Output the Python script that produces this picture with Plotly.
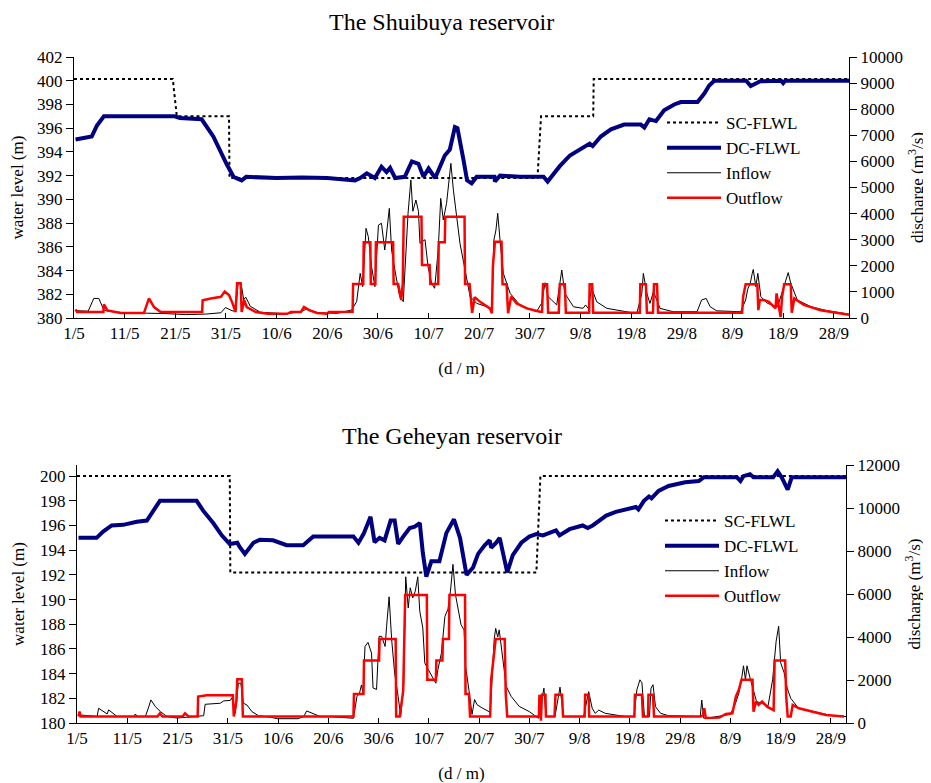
import plotly.graph_objects as go

# ---------------- axis ticks ----------------
TICK_DAYS = [0, 10, 20, 30, 40, 50, 60, 70, 80, 90, 100, 110, 120, 130, 140, 150]
TICK_TEXT = ["1/5", "11/5", "21/5", "31/5", "10/6", "20/6", "30/6", "10/7",
             "20/7", "30/7", "9/8", "19/8", "29/8", "8/9", "18/9", "28/9"]

# ---------------- Shuibuya (top) ----------------
SHU_SC_X = [0, 19.5, 20.3, 30.6, 30.7, 91.5, 92.2, 102.5, 102.6, 153]
SHU_SC_Y = [400.15, 400.15, 397.0, 397.0, 391.8, 391.8, 397.0, 397.0, 400.15, 400.15]

SHU_DC_X = [0.3, 3.0, 3.5, 4.5, 5.9, 19.9, 20.9, 25.2, 27.5, 30.1, 31.5, 33.1, 34.0, 40, 45, 50,
            54.5, 55.5, 56.5, 57.8, 59.4, 60.7, 61.7, 62.4, 63.4, 65.3, 66.7, 68.0, 69.0, 70.0,
            71.3, 73.2, 74.2, 75.2, 75.7, 76.2, 76.9, 77.6, 78.5, 79.5, 83.0, 83.1, 84.1, 88,
            92.7, 93.5, 95.9, 97.9, 99.9, 101.8, 102.4, 104.0, 106.0, 108.6, 111.9, 112.6, 113.6,
            114.9, 116.5, 118.5, 119.8, 123.1, 124.4, 125.4, 126.4, 132.7, 133.6, 135.0, 135.5,
            139.6, 140.0, 140.4, 153]
SHU_DC_Y = [395.05, 395.2, 395.3, 396.2, 397.0, 397.0, 396.85, 396.75, 395.3, 393.0, 391.9, 391.6,
            391.9, 391.8, 391.85, 391.8, 391.7, 391.6, 391.8, 392.2, 391.8, 392.75, 392.3, 392.65,
            391.8, 391.9, 393.2, 393.0, 391.9, 392.6, 391.8, 393.7, 394.2, 396.1, 396.0, 395.0,
            393.3, 391.6, 391.35, 391.9, 391.9, 391.5, 392.0, 391.9, 391.9, 391.5, 392.8, 393.7,
            394.2, 394.7, 394.5, 395.3, 395.9, 396.3, 396.3, 396.05, 396.75, 396.6, 397.5, 398.0,
            398.2, 398.2, 398.9, 399.6, 400.0, 400.0, 399.55, 399.8, 399.95, 400.0, 399.8, 400.0,
            400.0]

SHU_IN_X = [0.5, 2.8, 3.9, 4.9, 5.9, 7, 10, 14, 18, 22, 26, 29, 29.9, 31.2, 31.9, 32.4, 33.0, 33.5,
            33.9, 34.8, 36.8, 42, 45, 46, 48, 52, 54.8, 55.8, 56.5, 57.0, 57.65, 58.1, 58.75, 59.4,
            60.1, 60.7, 61.0, 61.35, 62.25, 62.7, 63.35, 64.3, 65.0, 65.5, 65.95, 66.5, 66.9, 67.5,
            68.0, 68.3, 69.3, 69.9, 70.6, 71.2, 71.9, 72.4, 72.9, 73.55, 74.1, 74.4, 74.9, 75.4,
            76.2, 77.2, 78.2, 79.5, 81.5, 82.5, 82.9, 83.3, 83.65, 84.1, 84.75, 86.1, 88.0, 91.3,
            92.3, 93.0, 93.6, 94.3, 95.3, 96.3, 96.9, 98.6, 100.5, 101.0, 101.5, 102.2, 103.2,
            105.2, 107.8, 111.1, 112.1, 112.4, 113.1, 113.7, 114.4, 115.0, 115.7, 118.3, 123,
            123.9, 124.8, 125.6, 126.9, 131.6, 132.6, 133.0, 133.5, 133.9, 134.1, 134.6, 135.0,
            135.6, 136.9, 138.9, 140.6, 141.0, 141.5, 142.8, 145.5, 148.8, 153]
SHU_IN_Y = [280, 260, 750, 750, 300, 250, 200, 190, 170, 130, 150, 200, 400, 280, 250, 1330, 1300,
            700, 800, 450, 220, 160, 260, 350, 200, 180, 306, 625, 1710, 1200, 3435, 3115, 1965,
            1200, 3560, 3630, 3100, 2605, 4200, 2600, 1840, 817, 625, 2220, 4010, 5290, 4090, 4520,
            4090, 2860, 3000, 1965, 1330, 1140, 2600, 4585, 3760, 4390, 5410, 5925, 4900, 4140,
            2860, 1840, 817, 562, 430, 300, 2990, 3370, 4010, 2990, 1720, 945, 500, 240, 562, 1350,
            817, 690, 500, 1840, 945, 430, 370, 500, 370, 1140, 620, 370, 275, 170, 945, 1710, 945,
            560, 1010, 690, 370, 240, 240, 690, 750, 430, 275, 240, 690, 1100, 1330, 1710, 1860,
            1200, 1710, 817, 560, 430, 1455, 1740, 1330, 690, 430, 275, 150]

SHU_OUT_X = [0.3, 0.6, 5.8, 5.9, 6.6, 7.9, 9.2, 13.8, 14.8, 15.8, 17.1, 25.3, 25.4, 27, 29, 29.75,
             30.6, 31.3, 31.9, 32.2, 32.9, 33.1, 33.6, 34.1, 35.9, 38.2, 42.1, 42.8, 44.8, 45.4,
             46.4, 48, 50, 50.3, 55.0, 55.1, 57.1, 57.2, 58.5, 58.6, 59.5, 59.6, 63.0, 63.1, 64.0,
             64.6, 64.9, 65.1, 68.6, 68.7, 70.2, 70.35, 71.9, 72.0, 73.2, 73.3, 77.1, 77.2, 78.1,
             78.6, 79.1, 80.3, 82.1, 82.5, 82.7, 83.1, 84.4, 84.6, 85.4, 85.7, 86.3, 87.4, 89.4,
             92.0, 92.4, 92.6, 93.4, 93.6, 95.7, 95.9, 96.9, 97.1, 101.7, 101.8, 102.3, 102.5,
             111.7, 111.8, 112.9, 113.1, 114.3, 114.5, 115.1, 115.3, 131.9, 132.1, 132.6, 134.9,
             135.1, 135.4, 136.2, 137.2, 138.5, 138.7, 139.2, 139.5, 139.8, 140.2, 141.5, 141.7,
             142.2, 144.1, 147.4, 150.1, 153]
SHU_OUT_Y = [330, 230, 230, 520, 290, 230, 190, 190, 750, 420, 230, 230, 680, 750, 810, 1010, 880,
             560, 230, 1330, 1330, 230, 680, 420, 230, 160, 160, 230, 230, 420, 300, 190, 160, 230,
             240, 1300, 1300, 2900, 2900, 1300, 1300, 2900, 2900, 1300, 1300, 690, 1300, 3880,
             3880, 2030, 2030, 1300, 1300, 2900, 2900, 3880, 3880, 1300, 1300, 200, 800, 600, 370,
             180, 1990, 2920, 2920, 1290, 1290, 180, 820, 560, 370, 240, 240, 1290, 1290, 200,
             200, 1290, 1290, 200, 200, 1290, 1290, 200, 200, 1290, 1290, 200, 200, 1290, 1290,
             200, 200, 820, 1290, 1290, 300, 690, 690, 620, 370, 945, 430, 40, 820, 1290, 1290,
             200, 750, 500, 300, 200, 120]

# ---------------- Geheyan (bottom) ----------------
GEH_SC_X = [0, 30.4, 30.5, 91.4, 92.2, 153]
GEH_SC_Y = [200.0, 200.0, 192.2, 192.2, 200.0, 200.0]

GEH_DC_X = [0.3, 3.9, 5.2, 6.9, 9.2, 11.9, 13.9, 15.2, 16.5, 23.8, 25.1, 27.1, 28.8, 30.4, 31.9,
            32.3, 33.4, 35.1, 36.4, 39.0, 41.7, 45.0, 47.0, 55.0, 56.0, 57.0, 58.4, 59.2, 60.2,
            61.2, 62.4, 63.2, 63.9, 64.9, 66.2, 67.2, 68.2, 68.8, 69.5, 70.5, 72.1, 73.5, 75.0,
            76.2, 77.5, 78.8, 79.8, 81.1, 82.1, 82.4, 83.4, 84.1, 84.7, 85.6, 86.7, 88.4, 90.0,
            91.4, 92.7, 94.0, 95.3, 96.0, 98.0, 100.6, 101.6, 102.6, 105.3, 107.2, 109.2, 110.5,
            111.2, 111.7, 112.8, 113.8, 114.3, 115.7, 117.7, 121.0, 123.7, 124.7, 131.3, 132.0,
            132.6, 133.9, 134.6, 138.5, 139.4, 140.2, 141.4, 142.2, 153]
GEH_DC_Y = [195.0, 195.0, 195.5, 196.0, 196.05, 196.3, 196.4, 197.2, 198.0, 198.0, 197.2, 196.2,
            195.2, 194.5, 194.6, 194.3, 193.7, 194.6, 194.85, 194.8, 194.4, 194.4, 195.1, 195.1,
            194.6, 195.3, 196.7, 194.65, 195.0, 194.8, 196.4, 196.4, 194.5, 195.1, 195.8, 195.9,
            196.2, 193.8, 191.85, 193.1, 193.1, 195.4, 196.5, 195.0, 192.0, 192.6, 193.7, 194.4,
            194.8, 194.2, 194.6, 195.0, 193.9, 192.2, 193.6, 194.6, 195.1, 195.3, 195.2, 195.4,
            195.6, 195.2, 195.7, 196.0, 195.8, 196.0, 196.8, 197.1, 197.3, 197.5, 197.5, 197.3,
            198.0, 198.35, 198.2, 198.8, 199.2, 199.5, 199.6, 199.9, 199.9, 199.6, 200.0, 200.15,
            199.9, 199.9, 200.4, 199.9, 198.9, 199.9, 199.9]

GEH_IN_X = [0.66, 4.0, 4.3, 5.3, 6.0, 6.3, 7.3, 8.0, 11.3, 11.6, 12.0, 13.6, 14.2, 14.7, 15.6, 16.6,
            17.9, 19.9, 25.2, 25.5, 28.5, 29.2, 30.5, 30.8, 31.1, 31.5, 32.1, 32.6, 33.1, 33.8,
            34.8, 36.1, 38.4, 39.8, 44, 45.1, 45.7, 46.7, 48.4, 50.4, 55.0, 55.7, 56.2, 56.6, 56.9,
            57.3, 57.9, 58.6, 58.9, 59.6, 60.1, 60.6, 61.3, 61.6, 62.1, 62.6, 63.2, 63.9, 64.4,
            65.0, 65.4, 65.9, 66.3, 66.8, 67.3, 67.8, 68.2, 68.8, 69.2, 69.9, 70.9, 71.4, 71.8,
            72.5, 73.2, 73.8, 74.3, 74.8, 75.3, 75.8, 76.4, 77.0, 77.3, 78.0, 78.6, 79.1, 79.6,
            80.6, 81.9, 82.2, 82.6, 83.0, 83.3, 83.7, 84.0, 84.7, 85.4, 86.4, 88.0, 90.0, 91.2,
            91.8, 92.9, 93.3, 95.1, 96.1, 96.8, 100.8, 101.8, 102.5, 103.1, 103.8, 105.1, 107.1,
            109.1, 110.8, 111.4, 112.0, 112.4, 112.9, 113.9, 114.2, 114.6, 115.1, 116.1, 117.7,
            122.4, 124.0, 124.3, 124.7, 126, 130, 131.0, 131.7, 132.2, 132.6, 133.0, 133.3, 134.0,
            134.5, 135.2, 137.5, 138.4, 139.1, 139.6, 140.0, 140.7, 141.3, 142.0, 143.5, 147, 150,
            153]
GEH_IN_Y = [374, 300, 685, 530, 420, 610, 450, 300, 300, 420, 300, 300, 700, 1074, 760, 530, 300,
            230, 340, 870, 920, 1030, 1050, 1170, 920, 450, 1850, 1850, 920, 840, 530, 340, 275,
            200, 200, 300, 560, 450, 300, 296, 220, 1230, 1380, 1770, 1400, 3560, 3750, 3250,
            1630, 1560, 4030, 4030, 3560, 4500, 5870, 3890, 2320, 1230, 300, 1790, 6800, 5350,
            6290, 5820, 6130, 6800, 5200, 4420, 2790, 2480, 2090, 1850, 2480, 3250, 4960, 5290,
            6130, 7380, 5970, 5350, 4580, 4330, 2640, 1500, 400, 1090, 850, 700, 545, 500, 2100,
            3880, 4400, 4000, 4330, 3100, 1700, 1230, 770, 530, 300, 220, 1620, 300, 300, 1670,
            300, 300, 1460, 690, 450, 600, 450, 380, 300, 300, 1550, 2010, 1870, 300, 300, 1620,
            1780, 760, 450, 340, 300, 300, 1070, 220, 250, 400, 900, 1400, 2010, 2660, 2010, 2660,
            2010, 1560, 1000, 800, 2010, 3800, 4500, 2800, 2330, 1620, 1150, 700, 500, 350, 300]

GEH_OUT_X = [0.3, 0.5, 0.7, 16.0, 16.5, 17.0, 21.0, 21.5, 22.2, 24.0, 24.1, 25.8, 31.0, 31.2, 31.7,
             31.9, 32.8, 33.0, 55.0, 55.1, 57.0, 57.1, 60.1, 60.2, 63.4, 63.5, 64.2, 64.9, 65.3,
             69.6, 69.7, 71.4, 71.5, 72.7, 72.8, 74.0, 74.1, 77.2, 77.3, 78.0, 78.2, 82.2, 82.4,
             83.3, 85.1, 85.3, 85.6, 91.9, 92.0, 92.3, 92.5, 93.2, 93.3, 95.0, 95.2, 96.5, 96.7,
             101.0, 101.1, 101.8, 101.9, 110.9, 111.0, 112.4, 112.6, 113.6, 113.7, 114.6, 114.8,
             124.1, 124.5, 124.8, 125.1, 127.8, 129.1, 130.4, 131.1, 131.7, 132.2, 134.4, 134.6,
             135.1, 135.6, 136.3, 137.3, 138.6, 138.8, 140.9, 141.1, 141.4, 142.0, 142.4, 143.6,
             146.3, 149.0, 152.6]
GEH_OUT_Y = [300, 530, 300, 300, 450, 300, 300, 450, 300, 300, 1230, 1290, 1290, 300, 1000, 2040,
             2040, 300, 300, 1350, 1350, 2910, 2910, 3910, 3910, 300, 300, 1500, 5950, 5950, 2010,
             2010, 2910, 2910, 3910, 3910, 5950, 5950, 1350, 1350, 300, 300, 2010, 3910, 3910,
             1350, 300, 300, 1310, 110, 1310, 1310, 300, 300, 1310, 1310, 300, 300, 1310, 1310,
             300, 300, 1310, 1310, 300, 300, 1310, 1310, 300, 300, 350, 685, 230, 250, 420, 450,
             1240, 1560, 2010, 2010, 530, 1000, 840, 1000, 760, 600, 2910, 2910, 1240, 300, 300,
             840, 685, 530, 370, 300]

FONT = "Liberation Serif, Times New Roman, serif"
NAVY = "#000080"
RED = "#FF0000"

fig = go.Figure()


def add_block(sc_x, sc_y, dc_x, dc_y, in_x, in_y, out_x, out_y, xa, yl, yr, legend):
    fig.add_trace(go.Scatter(x=sc_x, y=sc_y, name="SC-FLWL", mode="lines",
                             line=dict(color="black", width=2, dash="dot"),
                             xaxis=xa, yaxis=yl, legend=legend))
    fig.add_trace(go.Scatter(x=dc_x, y=dc_y, name="DC-FLWL", mode="lines",
                             line=dict(color=NAVY, width=4),
                             xaxis=xa, yaxis=yl, legend=legend))
    fig.add_trace(go.Scatter(x=in_x, y=in_y, name="Inflow", mode="lines",
                             line=dict(color="black", width=1),
                             xaxis=xa, yaxis=yr, legend=legend))
    fig.add_trace(go.Scatter(x=out_x, y=out_y, name="Outflow", mode="lines",
                             line=dict(color=RED, width=2.5),
                             xaxis=xa, yaxis=yr, legend=legend))


add_block(SHU_SC_X, SHU_SC_Y, SHU_DC_X, SHU_DC_Y, SHU_IN_X, SHU_IN_Y, SHU_OUT_X, SHU_OUT_Y,
          "x", "y", "y2", "legend")
add_block(GEH_SC_X, GEH_SC_Y, GEH_DC_X, GEH_DC_Y, GEH_IN_X, GEH_IN_Y, GEH_OUT_X, GEH_OUT_Y,
          "x2", "y3", "y4", "legend2")

# the page body has an 8px margin: figure is drawn 8px in from the top-left corner
OFF = 8
W, H = 931 - OFF, 783 - OFF


def px_x(p):
    return (p - OFF) / W


def px_y(p):
    return 1 - (p - OFF) / H


tickfont = dict(family=FONT, size=17, color="black")
titlefont = dict(family=FONT, size=17, color="black")

common_x = dict(range=[0, 153], tickvals=TICK_DAYS, ticktext=TICK_TEXT, ticks="inside",
                ticklen=5, tickcolor="black", showline=True, linecolor="black", linewidth=1,
                showgrid=False, zeroline=False, tickfont=tickfont, automargin=False,
                title=dict(text="(d / m)", font=titlefont, standoff=19))
common_y = dict(ticks="outside", ticklen=7, tickcolor="black", showline=True, linecolor="black",
                linewidth=1, showgrid=False, zeroline=False, tickfont=tickfont, automargin=False,
                tickformat="d")

fig.update_layout(
    width=W, height=H, margin=dict(l=0, r=0, t=0, b=0, autoexpand=False),
    paper_bgcolor="white", plot_bgcolor="white",
    font=dict(family=FONT, size=17, color="black"),
    xaxis=dict(domain=[px_x(74), px_x(849)], anchor="y", **common_x),
    yaxis=dict(domain=[px_y(318), px_y(57)], anchor="x", range=[380, 402], dtick=2,
               title=dict(text="water level (m)", font=titlefont, standoff=11), **common_y),
    yaxis2=dict(overlaying="y", side="right", anchor="x", range=[0, 10000], dtick=1000,
                title=dict(text="discharge (m<sup>3</sup>/s)", font=titlefont, standoff=9),
                **common_y),
    xaxis2=dict(domain=[px_x(77), px_x(846)], anchor="y3", **common_x),
    yaxis3=dict(domain=[px_y(723), px_y(465)], anchor="x2", range=[180, 200.9], dtick=2,
                title=dict(text="water level (m)", font=titlefont, standoff=11), **common_y),
    yaxis4=dict(overlaying="y3", side="right", anchor="x2", range=[0, 12000], dtick=2000,
                title=dict(text="discharge (m<sup>3</sup>/s)", font=titlefont, standoff=9),
                **common_y),
    legend=dict(x=px_x(662), y=px_y(105), xanchor="left", yanchor="top",
                bgcolor="rgba(0,0,0,0)", font=dict(family=FONT, size=17), itemwidth=54,
                tracegroupgap=0),
    legend2=dict(x=px_x(660), y=px_y(503), xanchor="left", yanchor="top",
                 bgcolor="rgba(0,0,0,0)", font=dict(family=FONT, size=17), itemwidth=54,
                 tracegroupgap=0),
    showlegend=True,
    annotations=[
        dict(text="The Shuibuya reservoir", x=px_x(441), y=px_y(22), xref="paper", yref="paper",
             showarrow=False, font=dict(family=FONT, size=24, color="black"),
             xanchor="center", yanchor="middle", borderpad=0),
        dict(text="The Geheyan reservoir", x=px_x(452), y=px_y(436), xref="paper", yref="paper",
             showarrow=False, font=dict(family=FONT, size=24, color="black"),
             xanchor="center", yanchor="middle", borderpad=0),
    ],
)

fig.write_html("out.html")
